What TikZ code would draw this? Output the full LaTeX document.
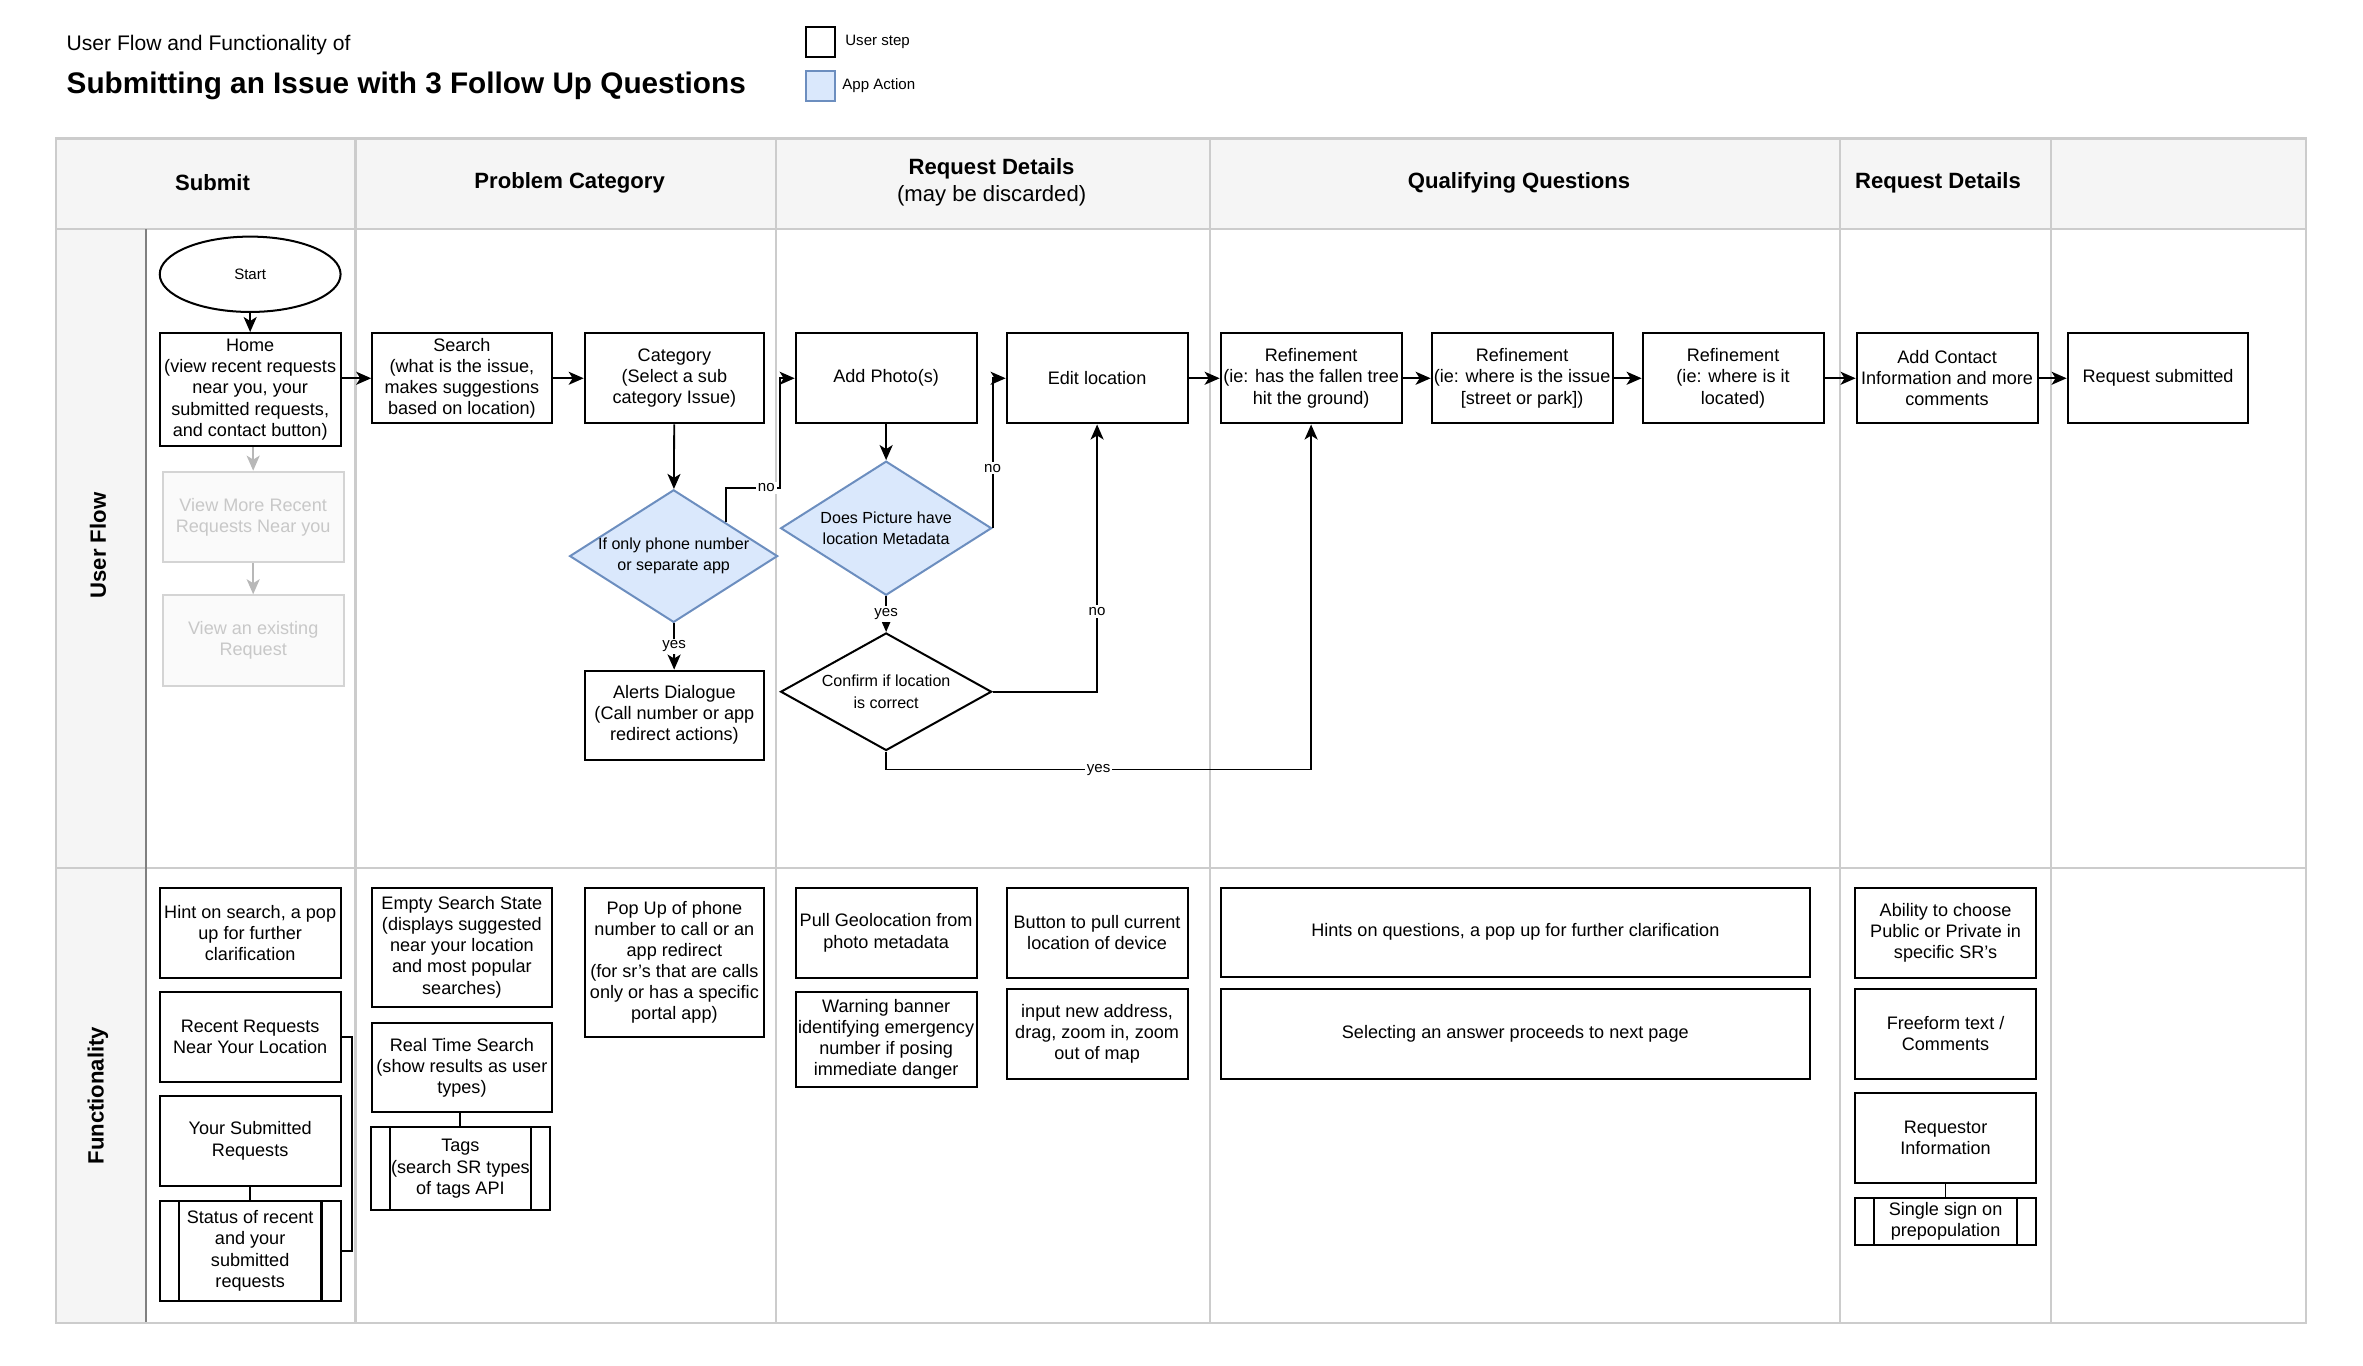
\documentclass[tikz,border=0pt]{standalone}
\usepackage{fontspec}
\setmainfont{Liberation Sans}
\usetikzlibrary{shapes.geometric, arrows.meta}
\definecolor{lanefill}{HTML}{F5F5F5}
\definecolor{laneline}{HTML}{CCCCCC}
\definecolor{appfill}{HTML}{DAE8FC}
\definecolor{appline}{HTML}{6C8EBF}
\definecolor{fadetext}{HTML}{C8C8C8}
\definecolor{fadeline}{HTML}{D4D4D4}
\definecolor{fadegray}{HTML}{B8B8B8}

\begin{document}
\begin{tikzpicture}[x=0.75pt, y=-0.75pt,
  every node/.style={font=\fontsize{9}{10.5}\selectfont},
  userstep/.style={draw, line width=1pt, align=center, inner sep=0.5pt, minimum width=90pt, minimum height=45pt},
  subproc/.style={userstep, path picture={
    \draw[line width=1pt] ([xshift=9.5pt]path picture bounding box.north west) -- ([xshift=9.5pt]path picture bounding box.south west);
    \draw[line width=1pt] ([xshift=-9.5pt]path picture bounding box.north east) -- ([xshift=-9.5pt]path picture bounding box.south east);}},
  fadebox/.style={draw=fadeline, line width=1pt, fill=white!98!black, text=fadetext, align=center, minimum width=90pt, minimum height=45pt},
  appdiamond/.style={diamond, draw=appline, fill=appfill, line width=1pt, inner sep=0pt},
  checkdiamond/.style={diamond, draw, line width=1pt, inner sep=0pt},
  dtext/.style={align=center, font=\fontsize{8}{10.5}\selectfont},
  flowarrow/.style={-{Stealth[length=7.5pt, width=6.5pt, inset=2pt]}, line width=0.9pt},
  fadearrow/.style={-{Stealth[length=7.5pt, width=6.5pt, inset=2pt]}, line width=0.9pt, draw=fadegray},
  lbl/.style={fill=white, inner sep=1pt, font=\fontsize{7.5}{9}\selectfont},
  header/.style={align=center, font=\fontsize{11}{13.5}\selectfont\bfseries},
  lanetitle/.style={rotate=90, font=\fontsize{11}{13}\selectfont\bfseries}]
\useasboundingbox (0,0) rectangle (1568,906.4);

% title and legend
\node[anchor=west, inner sep=0pt, font=\fontsize{10.5}{12}\selectfont] (subtitle) at (44,30) {User Flow and Functionality of};
\node[anchor=west, inner sep=0pt, font=\fontsize{14.8}{17}\selectfont\bfseries] (title) at (44,57) {Submitting an Issue with 3 Follow Up Questions};
\node[draw, line width=1pt, minimum width=14.25pt, minimum height=15pt, inner sep=0pt] (keyuser) at (544.5,28) {};
\node[anchor=west, inner sep=0pt, font=\fontsize{7.5}{9}\selectfont] (keyusertext) at ([xshift=4.5pt]keyuser.east) {User step};
\node[draw=appline, fill=appfill, line width=1pt, minimum width=14.25pt, minimum height=15pt, inner sep=0pt] (keyapp) at (544.5,57) {};
\node[anchor=west, inner sep=0pt, font=\fontsize{7.5}{9}\selectfont] (keyapptext) at ([xshift=3pt]keyapp.east) {App Action};

% swimlanes
\fill[lanefill] (37,92) rectangle (1530,152);
\fill[lanefill] (37,152) rectangle (97,878);
\foreach \x in {236,515,803,1221,1361}
  \draw[laneline, line width=1.2pt] (\x,92) -- (\x,878);
\draw[laneline, line width=1.2pt] (37,152) -- (1530,152);
\draw[laneline, line width=1.2pt] (37,576) -- (1530,576);
\draw[gray, line width=0.8pt] (97,152) -- (97,878);
\draw[laneline, line width=1.2pt] (37,92) rectangle (1530,878);

\node[header] (hsubmit) at (141,121) {Submit};
\node[header] (hcategory) at (378,121) {Problem Category};
\node[header] (hdetails) at (658,121) {Request Details\\\mdseries(may be discarded)};
\node[header] (hquestions) at (1008,121) {Qualifying Questions};
\node[header] (hcontact) at (1286,121) {Request Details};
\node[lanetitle] (luser) at (65,362) {User Flow};
\node[lanetitle] (lfunc) at (65,727) {Functionality};

% user flow
\node[draw, ellipse, line width=1pt, minimum width=90pt, minimum height=37.5pt, font=\fontsize{7.5}{9}\selectfont] (start) at (166,182) {Start};
\node[userstep, minimum height=56.25pt] (home) at (166,258.5) {Home\\(view recent requests\\near you, your\\submitted requests,\\and contact button)};
\node[fadebox] (viewmore) at (168,343) {View More Recent\\Requests Near you};
\node[fadebox] (viewexist) at (168,425) {View an existing\\Request};
\node[userstep, minimum width=89.25pt] (search) at (306.5,251) {Search\\(what is the issue,\\makes suggestions\\based on location)};
\node[userstep, minimum width=89.25pt] (category) at (447.5,251) {Category\\(Select a sub\\category Issue)};
\node[appdiamond, minimum width=103.5pt, minimum height=66pt] (choice) at (447,369) {};
\node[dtext] (choicetext) at (choice) {If only phone number\\or separate app};
\node[userstep, minimum width=89.25pt, minimum height=44.25pt] (alerts) at (447.5,474.5) {Alerts Dialogue\\(Call number or app\\redirect actions)};
\node[userstep] (photo) at (588,251) {Add Photo(s)};
\node[userstep] (editloc) at (728,251) {Edit location};
\node[appdiamond, minimum width=105pt, minimum height=66.75pt] (metadata) at (588,350.5) {};
\node[dtext] (metadatatext) at (metadata) {Does Picture have\\location Metadata};
\node[checkdiamond, minimum width=105pt, minimum height=58.5pt] (confirm) at (588,459) {};
\node[dtext] (confirmtext) at (confirm) {Confirm if location\\is correct};
\node[userstep] (refA) at (870,251) {Refinement\\(ie: has the fallen tree\\hit the ground)};
\node[userstep] (refB) at (1010,251) {Refinement\\(ie: where is the issue\\{}[street or park])};
\node[userstep] (refC) at (1150,251) {Refinement\\(ie: where is it\\located)};
\node[userstep] (contact) at (1292,251) {Add Contact\\Information and more\\comments};
\node[userstep] (submitted) at (1432,251) {Request submitted};

\draw[flowarrow] (start) -- (home);
\draw[fadearrow] (home.south -| viewmore.north) -- (viewmore.north);
\draw[fadearrow] (viewmore) -- (viewexist);
\draw[flowarrow] (home.east |- search.west) -- (search.west);
\draw[flowarrow] (search) -- (category);
\draw[flowarrow] (category) -- (choice);
\draw[flowarrow] (choice) -- (alerts) node[midway, lbl]{yes};
\draw[flowarrow] (choice.north east) -- ++(0,-23) -- node[pos=0.75, lbl]{no} ++(35.5,0) |- (photo.west);
\draw[flowarrow] (photo) -- (metadata);
\draw[flowarrow] (metadata.east) |- node[pos=0.2, lbl]{no} (editloc.west);
\draw[flowarrow] (metadata) -- (confirm) node[midway, lbl]{yes};
\draw[flowarrow] (confirm.east) -| node[pos=0.65, lbl]{no} (editloc.south);
\draw[flowarrow] (confirm.south) -- ++(0,12) -| node[pos=0.25, lbl]{yes} (refA.south);
\draw[flowarrow] (editloc) -- (refA);
\draw[flowarrow] (refA) -- (refB);
\draw[flowarrow] (refB) -- (refC);
\draw[flowarrow] (refC) -- (contact);
\draw[flowarrow] (contact) -- (submitted);

% functionality
\node[userstep] (hint) at (166,619) {Hint on search, a pop\\up for further\\clarification};
\node[userstep] (recent) at (166,688) {Recent Requests\\Near Your Location};
\node[userstep] (yours) at (166,757) {Your Submitted\\Requests};
\node[subproc, minimum height=49.5pt] (status) at (166,830) {Status of recent\\and your\\submitted\\requests};
\node[userstep, minimum width=89.25pt, minimum height=59.25pt] (empty) at (306.5,628.5) {Empty Search State\\(displays suggested\\near your location\\and most popular\\searches)};
\node[userstep, minimum width=89.25pt, minimum height=44.25pt] (realtime) at (306.5,708.5) {Real Time Search\\(show results as user\\types)};
\node[subproc, minimum width=89.25pt, minimum height=41.25pt] (tags) at (305.5,775.5) {Tags\\(search SR types\\of tags API};
\node[userstep, minimum width=89.25pt, minimum height=74.25pt] (popup) at (447.5,638.5) {Pop Up of phone\\number to call or an\\app redirect\\(for sr's that are calls\\only or has a specific\\portal app)};
\node[userstep] (geo) at (588,619) {Pull Geolocation from\\photo metadata};
\node[userstep, minimum height=47.25pt] (warning) at (588,689.5) {Warning banner\\identifying emergency\\number if posing\\immediate danger};
\node[userstep] (button) at (728,619) {Button to pull current\\location of device};
\node[userstep] (address) at (728,686) {input new address,\\drag, zoom in, zoom\\out of map};
\node[userstep, minimum width=293.25pt, minimum height=44.25pt] (hints) at (1005.5,618.5) {Hints on questions, a pop up for further clarification};
\node[userstep, minimum width=293.25pt] (selecting) at (1005.5,686) {Selecting an answer proceeds to next page};
\node[userstep] (ability) at (1291,619) {Ability to choose\\Public or Private in\\specific SR's};
\node[userstep] (freeform) at (1291,686) {Freeform text /\\Comments};
\node[userstep] (requestor) at (1291,755) {Requestor\\Information};
\node[subproc, minimum height=23.25pt] (sso) at (1291,810.5) {Single sign on\\prepopulation};

\draw[line width=0.9pt] (yours) -- (status);
\draw[line width=0.9pt] (tags.north) -- (tags.north |- realtime.south);
\draw[line width=0.9pt] (requestor) -- (sso);
\draw[line width=0.9pt] (recent.east) -- ++(7,0) |- (status.east);
\end{tikzpicture}
\end{document}
